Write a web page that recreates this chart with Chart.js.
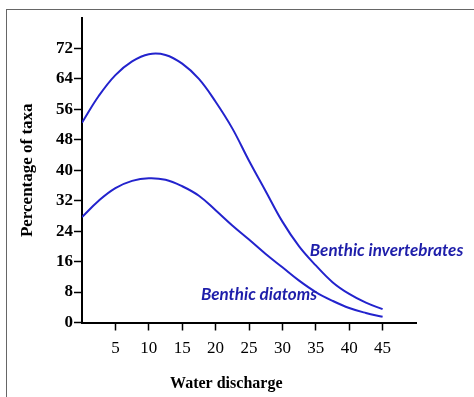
<!DOCTYPE html>
<html>
<head>
<meta charset="utf-8">
<script src="https://cdn.jsdelivr.net/npm/chart.js@4.4.1/dist/chart.umd.min.js"></script>
<style>
  html, body { margin: 0; padding: 0; background: #fff; }
  #wrap { position: relative; width: 474px; height: 397px; }
  #frame { position: absolute; left: 6px; top: 9px; right: 0; bottom: 0;
           border-top: 1px solid #666; border-left: 1px solid #666; }
  canvas { position: absolute; left: 0; top: 0; }
</style>
</head>
<body>
<div id="wrap">
  <div id="frame"></div>
  <canvas id="myChart" width="474" height="397"></canvas>
</div>
<script>
// water discharge values
var discharge = [0, 2.5, 5, 7.5, 10, 12.5, 15, 17.5, 20, 22.5, 25, 27.5, 30, 32.5, 35, 37.5, 40, 42.5, 45];
// percentage of taxa
var invertebrates = [52.5, 59.5, 65, 68.6, 70.5, 70.3, 68, 64, 58, 51, 42.5, 34.5, 26.5, 20, 15, 10.6, 7.5, 5.2, 3.5];
var diatoms = [27.7, 32, 35.3, 37.2, 37.9, 37.5, 35.8, 33.3, 29.5, 25.5, 21.8, 18, 14.5, 11, 8, 5.7, 3.8, 2.5, 1.5];
var xTicks = [5, 10, 15, 20, 25, 30, 35, 40, 45];
var yTicks = [0, 8, 16, 24, 32, 40, 48, 56, 64, 72];

var lineColor = 'rgb(35, 35, 205)';
var textColor = 'rgb(30, 30, 170)';

function toPoints(values) {
    return values.map((v, i) => ({ x: discharge[i], y: v }));
}

// series names written next to the curves, plus the x axis title
var labelPlugin = {
    id: 'curveLabels',
    afterDraw: function(chart) {
        var c = chart.ctx;
        var xs = chart.scales.x, ys = chart.scales.y;
        c.save();
        c.fillStyle = textColor;
        c.font = 'italic bold 17px Lato';
        c.textBaseline = 'alphabetic';
        c.fillText('Benthic invertebrates', xs.getPixelForValue(34.1), ys.getPixelForValue(17.6));
        c.fillText('Benthic diatoms', xs.getPixelForValue(17.8), ys.getPixelForValue(5.9));
        c.fillStyle = '#000';
        c.font = 'bold 16px "Liberation Serif"';
        c.textAlign = 'center';
        c.textBaseline = 'middle';
        c.fillText('Water discharge', xs.getPixelForValue(21.6), 384);
        c.restore();
    }
};

var ctx = document.getElementById('myChart').getContext('2d');
var chart = new Chart(ctx, {
    type: 'scatter',
    data: {
        datasets: [{
            label: 'Benthic invertebrates',
            data: toPoints(invertebrates),
            borderColor: lineColor,
            borderWidth: 2,
            pointRadius: 0,
            showLine: true,
            tension: 0.4
        }, {
            label: 'Benthic diatoms',
            data: toPoints(diatoms),
            borderColor: lineColor,
            borderWidth: 2,
            pointRadius: 0,
            showLine: true,
            tension: 0.4
        }]
    },
    options: {
        responsive: false,
        animation: false,
        layout: { padding: { left: 0, top: 18, right: 58, bottom: 0 } },
        plugins: { legend: { display: false }, tooltip: { enabled: false } },
        scales: {
            x: {
                type: 'linear',
                min: 0,
                max: 50,
                afterBuildTicks: function(scale) {
                    scale.ticks = xTicks.map(v => ({ value: v }));
                },
                afterFit: function(scale) { scale.height = 74.5; },
                border: { color: '#000', width: 2 },
                grid: { drawOnChartArea: false, drawTicks: true, tickLength: 8, tickWidth: 1.5, tickColor: '#000' },
                ticks: {
                    color: '#000',
                    padding: 8,
                    maxRotation: 0,
                    font: { family: 'Liberation Serif', size: 17 }
                }
            },
            y: {
                min: 0,
                max: 80,
                afterBuildTicks: function(scale) {
                    scale.ticks = yTicks.map(v => ({ value: v }));
                },
                afterFit: function(scale) { scale.width = 82; },
                border: { color: '#000', width: 2 },
                grid: { drawOnChartArea: false, drawTicks: true, tickLength: 8, tickWidth: 1.5, tickColor: '#000' },
                ticks: {
                    color: '#000',
                    padding: 1,
                    font: { family: 'Liberation Serif', size: 17, weight: 'bold' }
                },
                title: {
                    display: true,
                    text: 'Percentage of taxa',
                    color: '#000',
                    padding: { top: 17, bottom: 0 },
                    font: { family: 'Liberation Serif', size: 17, weight: 'bold' }
                }
            }
        }
    },
    plugins: [labelPlugin]
});
</script>
</body>
</html>
